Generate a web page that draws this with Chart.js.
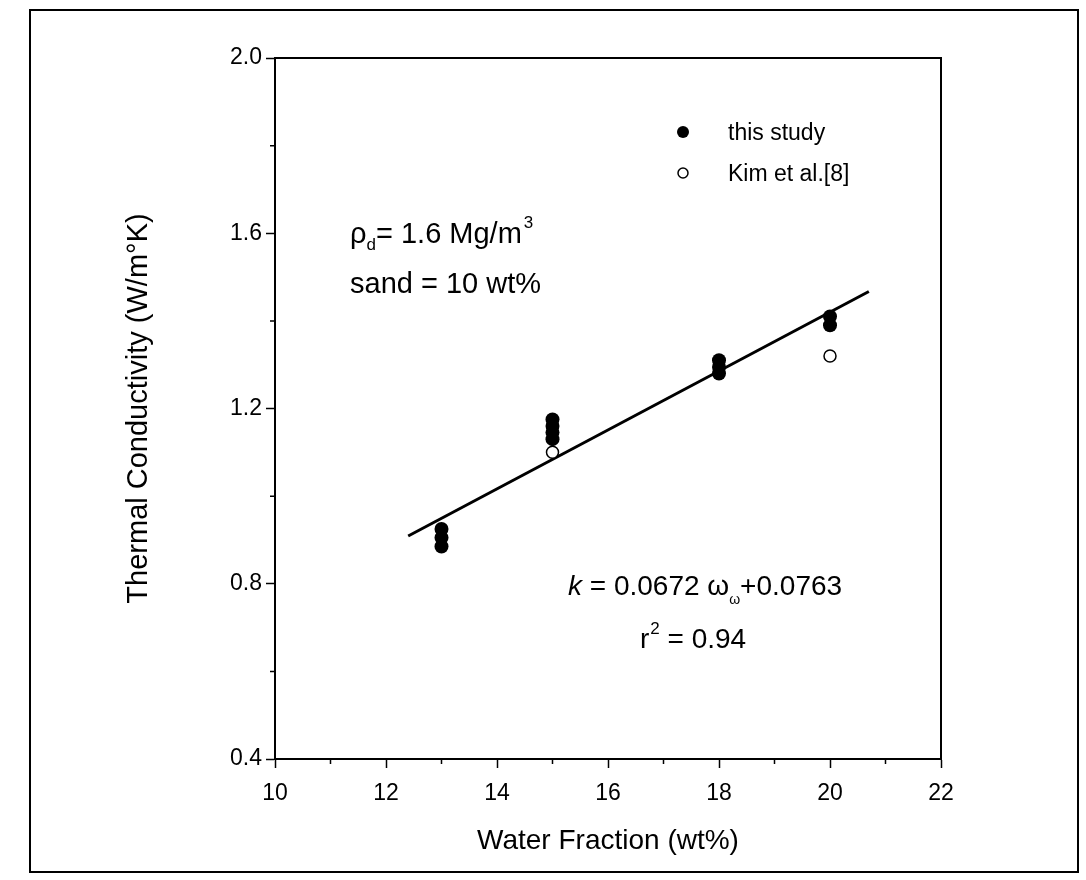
<!DOCTYPE html>
<html>
<head>
<meta charset="utf-8">
<script src="https://cdn.jsdelivr.net/npm/chart.js@4.4.1/dist/chart.umd.min.js"></script>
<style>
  html, body { margin: 0; padding: 0; background: #fff; }
  #wrap { width: 1086px; height: 880px; position: relative; }
</style>
</head>
<body>
<div id="wrap"><canvas id="c" width="1086" height="880"></canvas></div>
<script>
// ---- data ----
const thisStudyX = [13, 13, 13, 15, 15, 15, 15, 18, 18, 18, 20, 20];
const thisStudyY = [0.925, 0.905, 0.885, 1.175, 1.16, 1.145, 1.13, 1.31, 1.295, 1.28, 1.41, 1.39];
const kimX = [15, 20];
const kimY = [1.10, 1.32];
const fitX = [12.4, 20.7];
const fitY = [0.909, 1.467];
const xTickLabels = [10, 12, 14, 16, 18, 20, 22];
const yTickLabels = ['0.4', '0.8', '1.2', '1.6', '2.0'];

const FONT = '"Liberation Sans", Arial, sans-serif';

function pts(xs, ys) { return xs.map((x, i) => ({ x: x, y: ys[i] })); }
function isMajorX(v) { return xTickLabels.some(t => Math.abs(t - v) < 1e-6); }
function isMajorY(v) { return yTickLabels.some(t => Math.abs(parseFloat(t) - v) < 1e-6); }

const decor = {
  id: 'decor',
  afterDraw(chart) {
    const ctx = chart.ctx;
    const a = chart.chartArea;
    const xs = chart.scales.x, ys = chart.scales.y;
    ctx.save();
    ctx.strokeStyle = '#000';
    ctx.lineWidth = 2;
    ctx.strokeRect(a.left, a.top, a.right - a.left, a.bottom - a.top);
    // minor ticks
    ctx.lineWidth = 1.5;
    ctx.beginPath();
    for (let v = 11; v < 22; v += 2) {
      const px = xs.getPixelForValue(v);
      ctx.moveTo(px, a.bottom); ctx.lineTo(px, a.bottom + 5);
    }
    for (let k = 1; k < 8; k += 2) {
      const py = ys.getPixelForValue(0.4 + k * 0.2);
      ctx.moveTo(a.left, py); ctx.lineTo(a.left - 5, py);
    }
    ctx.stroke();
    // outer figure frame
    ctx.lineWidth = 2;
    ctx.strokeRect(30, 10, 1048, 862);

    ctx.fillStyle = '#000';
    ctx.textBaseline = 'alphabetic';
    ctx.textAlign = 'left';
    // legend
    ctx.beginPath();
    ctx.arc(683, 132, 6, 0, Math.PI * 2);
    ctx.fill();
    ctx.beginPath();
    ctx.lineWidth = 1.5;
    ctx.arc(683, 173, 5, 0, Math.PI * 2);
    ctx.stroke();
    ctx.font = '23px ' + FONT;
    ctx.fillText('this study', 728, 140);
    ctx.fillText('Kim et al.[8]', 728, 181);

    // parameter text
    let x = 350, y = 243;
    ctx.font = '29px ' + FONT;
    ctx.fillText('\u03C1', x, y); x += ctx.measureText('\u03C1').width;
    ctx.font = '17px ' + FONT;
    ctx.fillText('d', x, y + 7); x += ctx.measureText('d').width;
    ctx.font = '29px ' + FONT;
    ctx.fillText('= 1.6 Mg/m', x, y); x += ctx.measureText('= 1.6 Mg/m').width + 2;
    ctx.font = '17px ' + FONT;
    ctx.fillText('3', x, y - 15);
    ctx.font = '29px ' + FONT;
    ctx.fillText('sand = 10 wt%', 350, 293);

    // equation
    x = 568; y = 595;
    ctx.font = 'italic 28px ' + FONT;
    ctx.fillText('k', x, y); x += ctx.measureText('k').width;
    ctx.font = '28px ' + FONT;
    ctx.fillText(' = 0.0672 \u03C9', x, y); x += ctx.measureText(' = 0.0672 \u03C9').width;
    ctx.font = '14px ' + FONT;
    ctx.fillText('\u03C9', x, y + 9); x += ctx.measureText('\u03C9').width;
    ctx.font = '28px ' + FONT;
    ctx.fillText('+0.0763', x, y);
    x = 640; y = 648;
    ctx.fillText('r', x, y); x += ctx.measureText('r').width + 1;
    ctx.font = '17px ' + FONT;
    ctx.fillText('2', x, y - 14); x += ctx.measureText('2').width;
    ctx.font = '28px ' + FONT;
    ctx.fillText(' = 0.94', x, y);
    ctx.restore();
  }
};

new Chart(document.getElementById('c'), {
  type: 'scatter',
  data: {
    datasets: [
      {
        label: 'fit',
        type: 'line',
        data: pts(fitX, fitY),
        borderColor: '#000',
        borderWidth: 3,
        pointRadius: 0,
        fill: false,
        order: 3
      },
      {
        label: 'this study',
        data: pts(thisStudyX, thisStudyY),
        backgroundColor: '#000',
        borderColor: '#000',
        pointRadius: 7,
        pointBorderWidth: 0,
        order: 1
      },
      {
        label: 'Kim et al.[8]',
        data: pts(kimX, kimY),
        backgroundColor: '#fff',
        borderColor: '#000',
        pointRadius: 6,
        pointBorderWidth: 1.5,
        order: 0
      }
    ]
  },
  options: {
    responsive: false,
    animation: false,
    layout: { padding: { left: 122, top: 58, right: 145, bottom: 0 } },
    plugins: { legend: { display: false }, tooltip: { enabled: false } },
    scales: {
      x: {
        type: 'linear',
        min: 10, max: 22,
        afterFit(s) { s.height = 121; },
        border: { display: true, color: '#000', width: 2 },
        grid: {
          drawOnChartArea: false,
          drawTicks: true,
          tickLength: 9,
          tickWidth: 1.5,
          tickColor: c => (c.tick && isMajorX(c.tick.value)) ? '#000' : 'rgba(0,0,0,0)'
        },
        ticks: {
          stepSize: 1,
          autoSkip: false,
          maxRotation: 0,
          padding: 12,
          color: '#000',
          font: { family: FONT, size: 23 },
          callback: v => isMajorX(v) ? String(v) : ''
        },
        title: {
          display: true,
          text: 'Water Fraction (wt%)',
          color: '#000',
          font: { family: FONT, size: 28 },
          padding: { top: 0, bottom: 22 }
        }
      },
      y: {
        type: 'linear',
        min: 0.4, max: 2.0,
        afterFit(s) { s.width = 153; },
        border: { display: true, color: '#000', width: 2 },
        grid: {
          drawOnChartArea: false,
          drawTicks: true,
          tickLength: 9,
          tickWidth: 1.5,
          tickColor: c => (c.tick && isMajorY(c.tick.value)) ? '#000' : 'rgba(0,0,0,0)'
        },
        ticks: {
          stepSize: 0.2,
          autoSkip: false,
          padding: 4,
          color: '#000',
          font: { family: FONT, size: 23 },
          callback: v => {
            const m = yTickLabels.find(t => Math.abs(parseFloat(t) - v) < 1e-6);
            return m ? m : '';
          }
        },
        title: {
          display: true,
          text: 'Thermal Conductivity (W/m\u00B0K)',
          color: '#000',
          font: { family: FONT, size: 29 },
          padding: { top: 0, bottom: 0 }
        }
      }
    }
  },
  plugins: [decor]
});
</script>
</body>
</html>
